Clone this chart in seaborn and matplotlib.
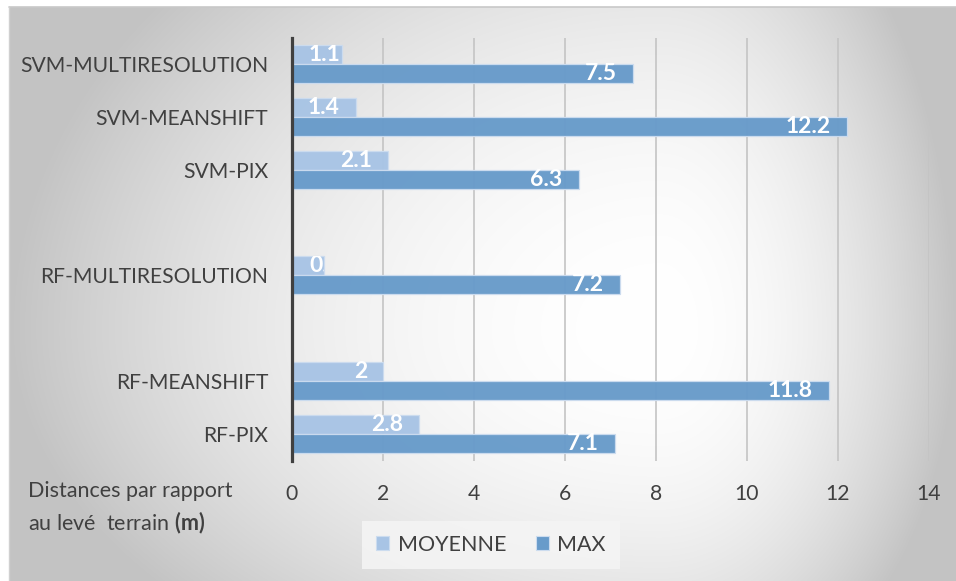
import numpy as np
import pandas as pd
import matplotlib
matplotlib.use("Agg")
import matplotlib.pyplot as plt
import seaborn as sns
from matplotlib.patches import Patch

# ---------------- data ----------------
categories = ["SVM-MULTIRESOLUTION", "SVM-MEANSHIFT", "SVM-PIX",
              "RF-MULTIRESOLUTION", "RF-MEANSHIFT", "RF-PIX"]
moyenne = [1.1, 1.4, 2.1, 0.7, 2.0, 2.8]
maximum = [7.5, 12.2, 6.3, 7.2, 11.8, 7.1]
moyenne_labels = ["1.1", "1.4", "2.1", "0.7", "2", "2.8"]
max_labels = ["7.5", "12.2", "6.3", "7.2", "11.8", "7.1"]
series = ["MOYENNE", "MAX"]
slot_order = ["SVM-MULTIRESOLUTION", "SVM-MEANSHIFT", "SVM-PIX", " ",
              "RF-MULTIRESOLUTION", "  ", "RF-MEANSHIFT", "RF-PIX"]
x_ticks = [0, 2, 4, 6, 8, 10, 12, 14]
axis_title_1 = "Distances par rapport"
axis_title_2 = "au levé  terrain $\\mathbf{(m)}$"

colors = {"MOYENNE": "#A8C4E5", "MAX": "#689BCA"}
text_col = "#404040"

df = pd.DataFrame({
    "cat": categories * 2,
    "val": moyenne + maximum,
    "serie": [series[0]] * len(categories) + [series[1]] * len(categories),
    "lab": moyenne_labels + max_labels,
})

sns.set_theme(style="white")
plt.rcParams["font.family"] = ["Lato", "DejaVu Sans"]
plt.rcParams["mathtext.fontset"] = "custom"
plt.rcParams["mathtext.rm"] = "Lato"
plt.rcParams["mathtext.bf"] = "Lato:bold"

W, H = 956, 581
fig = plt.figure(figsize=(W / 100, H / 100), dpi=100, facecolor="white")

# ---------------- background gradient ----------------
bg = fig.add_axes([0, 0, 1, 1], zorder=-10)
bg.axis("off")
left, right, top, bottom = 9, 956, 7, 581
cx, cy = 660, 330
xx, yy = np.meshgrid(np.arange(W) + 0.5, np.arange(H) + 0.5)
dx = np.where(xx < cx, (xx - cx) / (cx - left), (xx - cx) / (right - cx))
dy = np.where(yy < cy, (yy - cy) / ((cy - top) * 1.6), (yy - cy) / ((bottom - cy) * 1.6))
d = np.clip(np.sqrt(dx ** 2 + dy ** 2), 0, 1)
v = 1 - 0.235 * d ** 2
inside = (xx >= left) & (yy >= top)
img = np.where(inside, v, 1.0)
bg.imshow(np.dstack([img, img, img]), extent=[0, W, H, 0], aspect="auto",
          interpolation="bilinear")
bg.plot([left, W], [top, top], color="#C8C8C8", lw=1.2)
bg.plot([left, left], [top, H], color="#D0D0D0", lw=1.0)
bg.set_xlim(0, W)
bg.set_ylim(H, 0)

# ---------------- main axes ----------------
ax = fig.add_axes([292 / W, 1 - 460.5 / H, (929 - 292) / W, (460.5 - 37.5) / H])
ax.set_facecolor("none")
sns.barplot(data=df, y="cat", x="val", hue="serie", order=slot_order,
            hue_order=series, palette=colors, saturation=1, width=0.72, gap=0,
            orient="h", ax=ax, legend=False, edgecolor="#CCDCEF",
            linewidth=0.9, alpha=0.97, zorder=3)

ax.set_xlim(0, 14)
ax.set_xticks(x_ticks)
ax.set_xticklabels([str(t) for t in x_ticks])
ax.set_xlabel("")
ax.set_ylabel("")
for s in ["top", "right", "bottom"]:
    ax.spines[s].set_visible(False)
ax.spines["left"].set_color("#404040")
ax.spines["left"].set_linewidth(2.3)
ax.spines["left"].set_zorder(5)
ax.grid(axis="x", color="#C4C4C4", lw=1.2, zorder=0)
ax.grid(axis="y", visible=False)
ax.set_axisbelow(True)
ax.tick_params(axis="both", length=0, labelsize=15.2, colors=text_col)
ax.tick_params(axis="x", pad=17)
ax.tick_params(axis="y", pad=17)
for t in ax.get_xticklabels() + ax.get_yticklabels():
    t.set_color(text_col)

# ---------------- data labels ----------------
label_map = {(r.cat, r.serie): r.lab for r in df.itertuples()}
fig.canvas.draw()
renderer = fig.canvas.get_renderer()
for serie, cont in zip(series, ax.containers):
    for bar in cont:
        w = bar.get_width()
        if not np.isfinite(w) or w == 0:
            continue
        yc = bar.get_y() + bar.get_height() / 2
        slot = int(round(yc))
        cat = slot_order[slot]
        lab = label_map[(cat, serie)]
        t = ax.annotate(lab, xy=(w, yc), xytext=(-16, 0),
                        textcoords="offset pixels", ha="right", va="center",
                        color="white", fontsize=16.5, fontweight="bold", zorder=6)
        bb = t.get_window_extent(renderer)
        x0_px = ax.transData.transform((0, yc))[0]
        if bb.x0 < x0_px + 4:
            t.remove()
            t = ax.annotate(lab, xy=(0, yc), xytext=(17, 0),
                            textcoords="offset pixels", ha="left", va="center",
                            color="white", fontsize=16.5, fontweight="bold",
                            zorder=6)
            t.set_clip_path(bar)

# ---------------- axis title ----------------
fig.text(28 / W, 1 - 491 / H, axis_title_1, fontsize=15.5, color=text_col,
         va="center", ha="left")
fig.text(28 / W, 1 - 523 / H, axis_title_2, fontsize=15.5, color=text_col,
         va="center", ha="left")

# ---------------- legend ----------------
handles = [Patch(facecolor=colors[s], edgecolor="#CCDCEF", lw=0.8) for s in series]
leg = fig.legend(handles, series, loc="center", bbox_to_anchor=(491 / W, 1 - 545 / H),
                 ncol=2, frameon=True, fontsize=15.5, handlelength=0.62,
                 handleheight=0.62, handletextpad=0.4, columnspacing=1.35,
                 borderpad=0.65, borderaxespad=0, fancybox=False,
                 labelcolor=text_col)
leg.get_frame().set_facecolor("#F4F4F4")
leg.get_frame().set_edgecolor("none")
leg.get_frame().set_alpha(0.9)

fig.savefig("out.png", dpi=100, facecolor="white")
